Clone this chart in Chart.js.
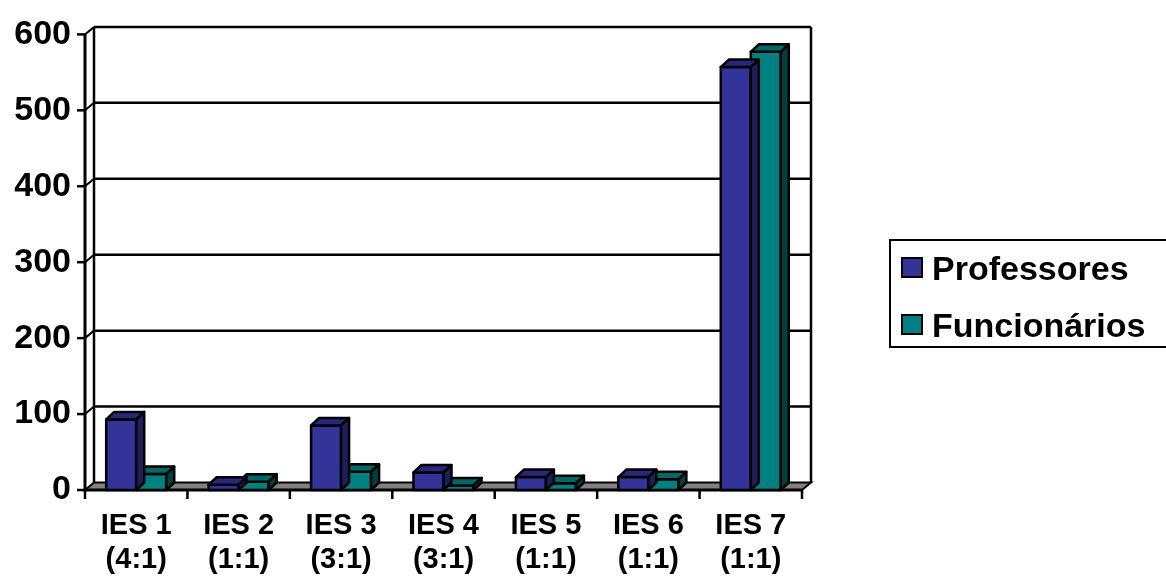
<!DOCTYPE html>
<html>
<head>
<meta charset="utf-8">
<script src="https://cdn.jsdelivr.net/npm/chart.js@4.4.1/dist/chart.umd.min.js"></script>
<style>
  html, body { margin: 0; padding: 0; background: #ffffff; }
  #wrap { width: 1166px; height: 576px; }
</style>
</head>
<body>
<div id="wrap"><canvas id="chart" width="1166" height="576"></canvas></div>
<script>
// Institutions (with staff ratio) shown along the horizontal axis
const categories = [
  ['IES 1', '(4:1)'],
  ['IES 2', '(1:1)'],
  ['IES 3', '(3:1)'],
  ['IES 4', '(3:1)'],
  ['IES 5', '(1:1)'],
  ['IES 6', '(1:1)'],
  ['IES 7', '(1:1)']
];
const seriesNames = ['Professores', 'Funcionários'];
const professores = [93, 7, 85, 23, 17, 17, 557];
const funcionarios = [21, 11, 24, 6, 9, 14, 577];
const yTicks = [0, 100, 200, 300, 400, 500, 600];

const FONT = "'Liberation Sans', Arial, Helvetica, sans-serif";

// Face colours for the 3D columns: front, top, side
const palette = [
  { front: '#333399', top: '#28287a', side: '#1e1e5c' },
  { front: '#008080', top: '#006666', side: '#004040' }
];

// Depth of the wall/floor box and of each column
const WALL = { dx: 9, dy: -7.5 };
const COL = { dx: 8, dy: -7.5 };

function poly(ctx, pts, fill, stroke, lw) {
  ctx.beginPath();
  ctx.moveTo(pts[0][0], pts[0][1]);
  for (let i = 1; i < pts.length; i++) ctx.lineTo(pts[i][0], pts[i][1]);
  ctx.closePath();
  if (fill) { ctx.fillStyle = fill; ctx.fill(); }
  if (stroke) { ctx.strokeStyle = stroke; ctx.lineWidth = lw; ctx.stroke(); }
}

function line(ctx, x1, y1, x2, y2, lw) {
  ctx.beginPath();
  ctx.moveTo(x1, y1);
  ctx.lineTo(x2, y2);
  ctx.lineWidth = lw;
  ctx.strokeStyle = '#000';
  ctx.stroke();
}

// Back wall, side wall, floor, axes and tick marks
const frame3d = {
  id: 'frame3d',
  beforeDatasetsDraw(chart) {
    const { ctx, chartArea: a, scales } = chart;
    const y = scales.y, x = scales.x;
    const L = a.left, R = a.right, T = a.top, B = a.bottom;
    const dx = WALL.dx, dy = WALL.dy;
    ctx.save();
    ctx.lineJoin = 'miter';

    // floor
    poly(ctx, [[L, B], [R, B], [R + dx, B + dy], [L + dx, B + dy]], '#808080', '#000', 2);

    // back wall gridlines with side-wall diagonals and value ticks
    yTicks.forEach(v => {
      const py = y.getPixelForValue(v);
      if (v !== 0) {
        line(ctx, L + dx, py + dy, R + dx, py + dy, 2.5);
        line(ctx, L, py, L + dx, py + dy, 2);
      }
      line(ctx, L - 8, py, L, py, 2.5);
    });

    // back wall verticals
    const topBack = y.getPixelForValue(600) + dy;
    line(ctx, L + dx, topBack, L + dx, B + dy, 2.5);
    line(ctx, R + dx, topBack, R + dx, B + dy, 2.5);

    // category boundary ticks
    const step = x.getPixelForValue(1) - x.getPixelForValue(0);
    for (let i = 0; i <= categories.length; i++) {
      const px = x.getPixelForValue(0) - step / 2 + i * step;
      line(ctx, px, B, px, B + 9, 2.5);
    }

    // front axes
    line(ctx, L, T, L, B + 1.5, 3);
    line(ctx, L, B, R, B, 3);
    ctx.restore();
  }
};

// Outline plus top and side faces of each column, drawn right after its series
const columns3d = {
  id: 'columns3d',
  afterDatasetDraw(chart, args) {
    const { ctx } = chart;
    const colors = palette[args.index];
    ctx.save();
    ctx.lineJoin = 'round';
    args.meta.data.forEach(bar => {
      const p = bar.getProps(['x', 'y', 'base', 'width'], true);
      const l = p.x - p.width / 2, r = p.x + p.width / 2;
      const t = p.y, b = p.base;
      poly(ctx, [[l, t], [r, t], [r, b], [l, b]], null, '#000', 2.5);
      poly(ctx, [[l, t], [r, t], [r + COL.dx, t + COL.dy], [l + COL.dx, t + COL.dy]], colors.top, '#000', 2.5);
      poly(ctx, [[r, t], [r + COL.dx, t + COL.dy], [r + COL.dx, b + COL.dy], [r, b]], colors.side, '#000', 2.5);
    });
    ctx.restore();
  }
};

// Legend box at the right
const legendBox = {
  id: 'legendBox',
  afterDraw(chart) {
    const { ctx } = chart;
    ctx.save();
    ctx.fillStyle = '#fff';
    ctx.fillRect(890, 240, 290, 107);
    ctx.strokeStyle = '#000';
    ctx.lineWidth = 2;
    ctx.strokeRect(890, 240, 290, 107);
    ctx.font = 'bold 34px ' + FONT;
    ctx.textBaseline = 'alphabetic';
    ctx.textAlign = 'left';
    chart.data.datasets.forEach((ds, i) => {
      const top = 258 + i * 57;
      ctx.fillStyle = palette[i].front;
      ctx.fillRect(902, top, 20, 19);
      ctx.strokeRect(902, top, 20, 19);
      ctx.fillStyle = '#000';
      ctx.fillText(ds.label, 932, top + 22);
    });
    ctx.restore();
  }
};

new Chart(document.getElementById('chart'), {
  type: 'bar',
  data: {
    labels: categories,
    datasets: [
      {
        label: seriesNames[0],
        data: professores,
        backgroundColor: palette[0].front,
        borderWidth: 0,
        categoryPercentage: 0.586,
        barPercentage: 1
      },
      {
        label: seriesNames[1],
        data: funcionarios,
        backgroundColor: palette[1].front,
        borderWidth: 0,
        categoryPercentage: 0.586,
        barPercentage: 1
      }
    ]
  },
  options: {
    responsive: false,
    animation: false,
    layout: { padding: { top: 31, right: 364, bottom: 0, left: 0 } },
    plugins: { legend: { display: false }, tooltip: { enabled: false } },
    scales: {
      x: {
        grid: { display: false, drawTicks: false },
        border: { display: false },
        ticks: {
          color: '#000',
          font: { family: FONT, size: 29, weight: 'bold', lineHeight: 1.17 },
          padding: 19,
          maxRotation: 0,
          autoSkip: false
        },
        afterFit(scale) { scale.height = 86; }
      },
      y: {
        min: 0,
        max: 600,
        grid: { display: false, drawTicks: false },
        border: { display: false },
        ticks: {
          stepSize: 100,
          color: '#000',
          font: { family: FONT, size: 34, weight: 'bold' },
          padding: 14
        },
        afterFit(scale) { scale.width = 85; }
      }
    }
  },
  plugins: [frame3d, columns3d, legendBox]
});
</script>
</body>
</html>
